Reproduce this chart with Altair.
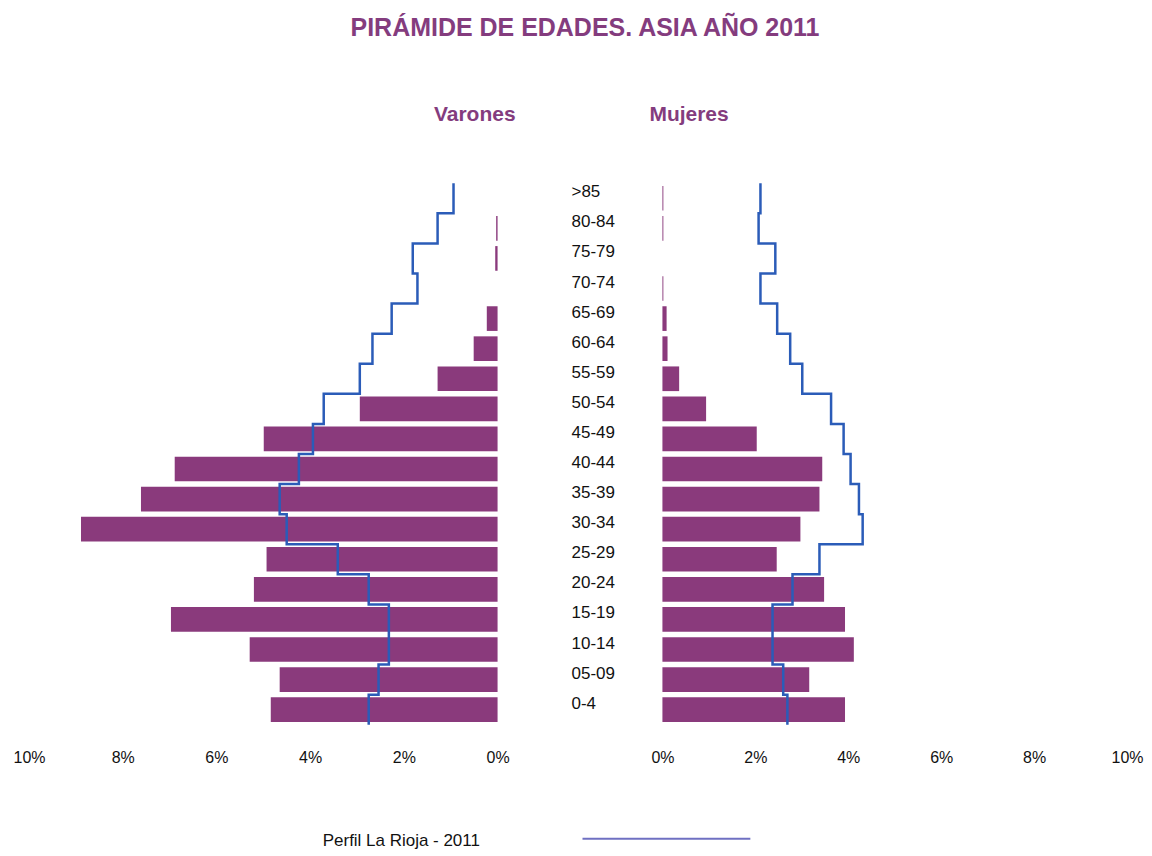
import altair as alt
import pandas as pd

# ---- data ----
ages = [">85", "80-84", "75-79", "70-74", "65-69", "60-64", "55-59", "50-54", "45-49",
        "40-44", "35-39", "30-34", "25-29", "20-24", "15-19", "10-14", "05-09", "0-4"]
varones = [0.0, 0.03, 0.05, 0.0, 0.23, 0.51, 1.28, 2.94, 4.99,
           6.89, 7.61, 8.89, 4.93, 5.20, 6.97, 5.29, 4.65, 4.84]
mujeres = [0.02, 0.02, 0.0, 0.02, 0.09, 0.11, 0.36, 0.94, 2.03,
           3.44, 3.38, 2.97, 2.46, 3.48, 3.93, 4.12, 3.16, 3.93]
rioja_varones = [0.94, 1.28, 1.81, 1.71, 2.26, 2.67, 2.94, 3.71, 3.94,
                 4.24, 4.65, 4.50, 3.41, 2.75, 2.32, 2.32, 2.54, 2.75]
rioja_mujeres = [2.11, 2.07, 2.43, 2.11, 2.47, 2.75, 3.01, 3.63, 3.90,
                 4.05, 4.23, 4.31, 3.38, 2.80, 2.37, 2.37, 2.60, 2.69]
tick_values = [0, 2, 4, 6, 8, 10]
title_text = "PIRÁMIDE DE EDADES. ASIA AÑO 2011"
left_title = "Varones"
right_title = "Mujeres"
legend_label = "Perfil La Rioja - 2011"

PURPLE = "#8a3a7c"
TITLE_PURPLE = "#843c7e"
BLUE = "#2b5cb8"
LEGEND_BLUE = "#6f70c2"
FONT = "Liberation Sans"

bars = pd.DataFrame({"age": ages, "pos": list(range(len(ages))),
                     "varones": varones, "mujeres": mujeres})

# step profile: each age group spans its whole row
step_rows = []
for i, (m, f) in enumerate(zip(rioja_varones, rioja_mujeres)):
    step_rows.append({"seq": 2 * i, "edge": i, "m": m, "f": f})
    step_rows.append({"seq": 2 * i + 1, "edge": i + 1, "m": m, "f": f})
steps = pd.DataFrame(step_rows)

H = 542
yscale = alt.Scale(domain=[0, len(ages)], reverse=True, nice=False, zero=False)


def xaxis():
    return alt.Axis(values=tick_values, labelExpr="datum.value + '%'", title=None,
                    domain=False, ticks=False, grid=False, labelFontSize=16,
                    labelColor="#111111", labelPadding=25, labelFont=FONT,
                    labelFlush=False)


def panel(col, line_col, width, reverse, title):
    xs = alt.Scale(domain=[0, 10], reverse=reverse, nice=False)
    b = alt.Chart(bars).mark_bar(color=PURPLE).transform_calculate(
        y0="datum.pos + 0.09", y1="datum.pos + 0.91"
    ).encode(
        x=alt.X(f"{col}:Q", scale=xs, axis=xaxis()),
        x2=alt.datum(0),
        y=alt.Y("y0:Q", scale=yscale, axis=None),
        y2="y1:Q",
    )
    ln = alt.Chart(steps).mark_line(color=BLUE, strokeWidth=2.5).encode(
        x=alt.X(f"{line_col}:Q", scale=xs),
        y=alt.Y("edge:Q", scale=yscale),
        order="seq:Q",
    )
    return alt.layer(b, ln).properties(width=width, height=H, title=title)


left = panel("varones", "m", 469, True,
             alt.TitleParams(left_title, anchor="end", frame="group", dx=18, offset=53,
                             fontSize=21, fontWeight="bold", color=TITLE_PURPLE, font=FONT))
right = panel("mujeres", "f", 465, False,
              alt.TitleParams(right_title, anchor="start", frame="group", dx=-13, offset=53,
                              fontSize=21, fontWeight="bold", color=TITLE_PURPLE, font=FONT))

labels = alt.Chart(bars).mark_text(align="left", baseline="middle", fontSize=17,
                                   font=FONT, color="#111111", dy=-6).transform_calculate(
    yc="datum.pos + 0.5"
).encode(
    x=alt.value(74),
    y=alt.Y("yc:Q", scale=yscale, axis=None),
    text="age:N",
)
leg_df = pd.DataFrame({"label": [legend_label]})
leg_text = alt.Chart(leg_df).mark_text(align="left", baseline="middle", fontSize=17,
                                       font=FONT, color="#111111").encode(
    x=alt.value(-175), y=alt.value(658), text="label:N")
leg_line = alt.Chart(leg_df).mark_rule(color=LEGEND_BLUE, strokeWidth=2).encode(
    x=alt.value(85), x2=alt.value(253), y=alt.value(656))
middle = alt.layer(labels, leg_text, leg_line).properties(width=165, height=H)

chart = alt.hconcat(left, middle, right, spacing=0, bounds="flush").properties(
    title=alt.TitleParams(title_text, anchor="middle", frame="bounds", dx=7, offset=63,
                          fontSize=25, fontWeight="bold", color=TITLE_PURPLE, font=FONT),
    padding={"left": 4, "top": 8, "right": 0, "bottom": 0},
).configure(font=FONT, background="white", view=alt.ViewConfig(strokeWidth=0))

chart.save("out.html", embed_options={"renderer": "svg", "actions": False})
